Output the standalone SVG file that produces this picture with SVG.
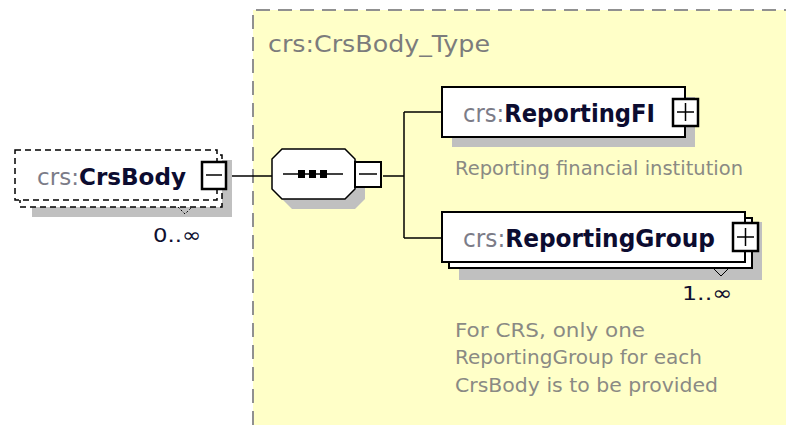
<svg xmlns="http://www.w3.org/2000/svg" width="786" height="425" viewBox="0 0 786 425">
<style>
text{font-family:"DejaVu Sans",sans-serif}
.pre{fill:#7c7c88}
.nm{fill:#0c0c30;font-weight:bold}
.desc{fill:#8a8a84;font-size:19px}
.box{fill:#fff;stroke:#000;stroke-width:2}
.shadow{fill:#c0c0c0}
.ln{stroke:#000;stroke-width:1.5;fill:none}
.occ{fill:#101030;font-size:20px}
</style>
<rect x="253" y="10" width="540" height="420" fill="#ffffc8"/>
<path d="M253 425 V10 H786" fill="none" stroke="#909090" stroke-width="2" stroke-dasharray="14,8"/>
<text x="268" y="52" font-size="23" fill="#7c7c7c" textLength="222" lengthAdjust="spacingAndGlyphs">crs:CrsBody_Type</text>

<g id="connectors">
<line class="ln" x1="228" y1="176" x2="272" y2="176"/>
<line class="ln" x1="383" y1="176" x2="404" y2="176"/>
<line class="ln" x1="404" y1="112" x2="404" y2="238"/>
<line class="ln" x1="404" y1="112" x2="442" y2="112"/>
<line class="ln" x1="404" y1="238" x2="442" y2="238"/>
</g>

<g id="CrsBody">
<rect class="shadow" x="32" y="160" width="200" height="57"/>
<rect x="20" y="155" width="202" height="52" fill="#fff" stroke="#000" stroke-width="1.5" stroke-dasharray="6,4"/>
<rect x="15" y="150" width="202" height="50" fill="#fff" stroke="#000" stroke-width="1.5" stroke-dasharray="6,4"/>
<path d="M178 207 l7 7 l7 -7" fill="none" stroke="#000" stroke-width="1" stroke-dasharray="2,2"/>
<rect x="202" y="162" width="24" height="27" fill="#fff" stroke="#000" stroke-width="2.5"/>
<line x1="206" y1="175" x2="222" y2="175" stroke="#000" stroke-width="1.5"/>
<text x="37" y="185" font-size="23" textLength="149" lengthAdjust="spacingAndGlyphs"><tspan class="pre">crs:</tspan><tspan class="nm">CrsBody</tspan></text>
<text class="occ" x="153" y="242" textLength="48" lengthAdjust="spacingAndGlyphs">0..∞</text>
</g>

<g id="sequence">
<path class="shadow" d="M292 159 H355 L365 169 V199 L355 209 H292 L282 199 V169 Z"/>
<path d="M282 149 H345 L355 159 V189 L345 199 H282 L272 189 V159 Z" fill="#fff" stroke="#000" stroke-width="1.5"/>
<line x1="283" y1="174" x2="343" y2="174" stroke="#000" stroke-width="1.5"/>
<rect x="298" y="170" width="7" height="8" fill="#000"/>
<rect x="309" y="170" width="7" height="8" fill="#000"/>
<rect x="320" y="170" width="7" height="8" fill="#000"/>
<rect x="355" y="162" width="26" height="25" fill="#fff" stroke="#000" stroke-width="2"/>
<line x1="359" y1="174" x2="377" y2="174" stroke="#000" stroke-width="1.5"/>
</g>

<g id="ReportingFI">
<rect class="shadow" x="452" y="97" width="243" height="50"/>
<rect class="box" x="442" y="87" width="243" height="50"/>
<rect x="673" y="99" width="25" height="27" fill="#fff" stroke="#000" stroke-width="2.5"/>
<path d="M677 112 H694 M685.5 103 V121" stroke="#000" stroke-width="1.5"/>
<text x="463" y="122" font-size="24" textLength="192" lengthAdjust="spacingAndGlyphs"><tspan class="pre">crs:</tspan><tspan class="nm">ReportingFI</tspan></text>
<text class="desc" x="455" y="175" textLength="288" lengthAdjust="spacingAndGlyphs">Reporting financial institution</text>
</g>

<g id="ReportingGroup">
<rect class="shadow" x="459" y="222" width="303" height="58"/>
<rect class="box" x="449" y="218" width="303" height="50"/>
<rect class="box" x="442" y="212" width="303" height="50"/>
<path d="M713 268 l8 8 l8 -8" fill="none" stroke="#000" stroke-width="1"/>
<rect x="733" y="223" width="25" height="28" fill="#fff" stroke="#000" stroke-width="2.5"/>
<path d="M737 237 H754 M745.5 228 V246" stroke="#000" stroke-width="1.5"/>
<text x="463" y="247" font-size="24" textLength="252" lengthAdjust="spacingAndGlyphs"><tspan class="pre">crs:</tspan><tspan class="nm">ReportingGroup</tspan></text>
<text class="occ" x="682" y="300" textLength="50" lengthAdjust="spacingAndGlyphs">1..∞</text>
<text class="desc" x="455" y="337" textLength="190" lengthAdjust="spacingAndGlyphs">For CRS, only one</text>
<text class="desc" x="455" y="364" textLength="247" lengthAdjust="spacingAndGlyphs">ReportingGroup for each</text>
<text class="desc" x="455" y="392" textLength="263" lengthAdjust="spacingAndGlyphs">CrsBody is to be provided</text>
</g>
</svg>
